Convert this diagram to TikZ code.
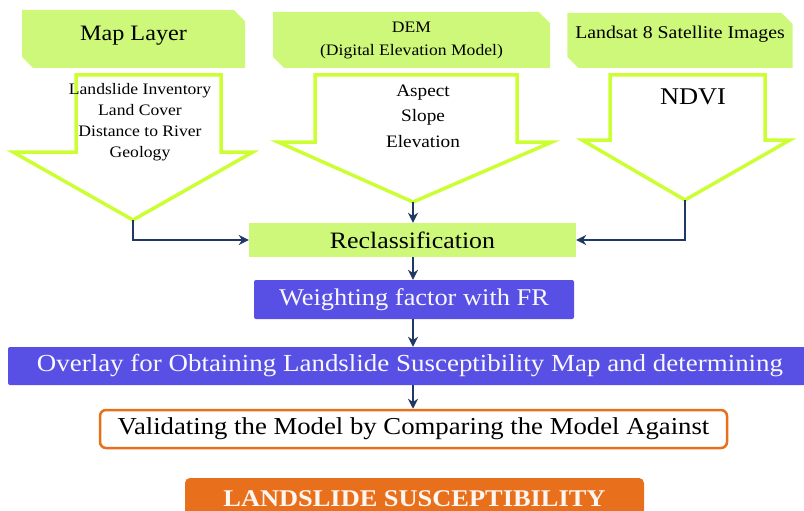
\documentclass[tikz,border=0pt]{standalone}
\usepackage{fontspec}
\setmainfont{Liberation Serif}[FakeStretch=1.1]
\usetikzlibrary{arrows.meta,shapes.misc}

\definecolor{lime}{RGB}{206,248,122}
\definecolor{limeline}{RGB}{204,255,51}
\definecolor{violetblue}{RGB}{88,80,228}
\definecolor{burnt}{RGB}{232,112,28}
\definecolor{navy}{RGB}{31,56,100}

\newcommand{\fs}[2]{\fontsize{#1}{#2}\selectfont}

\begin{document}
\begin{tikzpicture}[x=1pt,y=-1pt,
    source/.style={chamfered rectangle, chamfered rectangle corners={north east,south west},
        chamfered rectangle xsep=8pt, fill=lime, inner sep=0pt, align=center},
    bigarrow/.style={draw=limeline, fill=white, line width=3.5pt, line join=miter},
    stepgreen/.style={fill=lime, inner sep=0pt},
    stepblue/.style={fill=violetblue, rounded corners=2pt, inner sep=0pt, text=white!96!violetblue},
    flow/.style={draw=navy, line width=2.2pt, -{Stealth[length=10pt,width=10pt]}}]

                \useasboundingbox (0,0) rectangle (804,511);
                \clip (0,0) rectangle (804,511);

                % source boxes
                \node[source, minimum width=223pt, minimum height=58pt, font=\fs{22}{26}, text depth=12pt] (map) at (133.5,39) {Map Layer};
                \node[source, minimum width=277pt, minimum height=56pt, font=\fs{16}{23}] (dem) at (411.5,40) {DEM\\(Digital Elevation Model)};
                \node[source, minimum width=224pt, minimum height=55pt, font=\fs{18}{22}, text depth=16pt] (sat) at (680,40.5) {Landsat 8 Satellite Images};

                % block arrows
                \draw[bigarrow] (76,75) -- (221,75) -- (221,152) -- (253,152) -- (133,220) -- (13,152) -- (76,152) -- cycle;
                \draw[bigarrow] (315,75) -- (517,75) -- (517,142) -- (552,142) -- (413,202) -- (278,142) -- (315,142) -- cycle;
                \draw[bigarrow] (610,75) -- (765,75) -- (765,140) -- (790,140) -- (685,200) -- (582,140) -- (610,140) -- cycle;
                \coordinate (maptip) at (133,220);
                \coordinate (demtip) at (413,202);
                \coordinate (sattip) at (685,200);

                \node[align=center, font=\fs{16}{21}] (mapitems) at (140,122) {Landslide Inventory\\Land Cover\\Distance to River\\Geology};
                \node[align=center, font=\fs{17.5}{25.5}] (demitems) at (423,116) {Aspect\\Slope\\Elevation};
                \node[font=\fs{24}{28}] (ndvi) at (693,97) {NDVI};

                % process boxes
                \node[stepgreen, minimum width=327pt, minimum height=34pt, font=\fs{23.5}{28}] (reclass) at (412.5,240) {Reclassification};
                \node[stepblue, minimum width=320pt, minimum height=39pt, font=\fs{24}{28}] (weight) at (414,299.5) {Weighting factor with FR};
                \node[stepblue, minimum width=804pt, minimum height=38pt, font=\fs{24.5}{28}] (overlay) at (410,366) {Overlay for Obtaining Landslide Susceptibility Map and determining};
                \node[draw=burnt, line width=2.5pt, rounded corners=6pt, fill=white, minimum width=627pt, minimum height=38pt, inner sep=0pt, font=\fs{24.3}{28}] (valid) at (413.5,429) {Validating the Model by Comparing the Model Against};
                \node[fill=burnt, rounded corners=5pt, minimum width=459pt, minimum height=42pt, inner sep=0pt, text=white!94!burnt, font=\fs{24}{28}\bfseries] (result) at (414.5,499) {LANDSLIDE SUSCEPTIBILITY};

                % connectors
                \draw[flow] (maptip) |- (reclass.west);
                \draw[flow] (sattip) |- (reclass.east);
                \draw[flow] (demtip) -- (demtip |- reclass.north);
                \draw[flow] (demtip |- reclass.south) -- (demtip |- weight.north);
                \draw[flow] (demtip |- weight.south) -- (demtip |- overlay.north);
                \draw[flow] (demtip |- overlay.south) -- (demtip |- valid.north);

\end{tikzpicture}
\end{document}
